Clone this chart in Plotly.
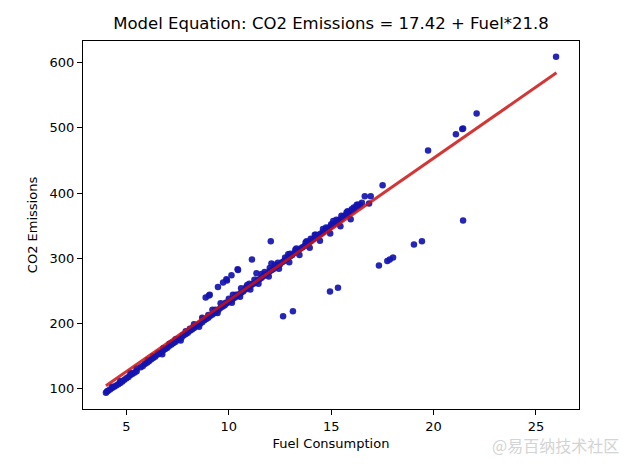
import plotly.graph_objects as go

# ---- data ----
# main band of points (fuel consumption, CO2 emissions)
band_fuel = [4.0, 4.05, 4.1, 4.2, 4.3, 4.4, 4.5, 4.6, 4.7, 4.8, 4.9, 5.0, 5.1, 5.2, 5.3, 5.4, 5.5,
             5.7, 5.8, 5.9, 6.0, 6.1, 6.2, 6.3, 6.4, 6.5, 6.6, 6.7, 6.8, 6.9, 7.0, 7.1, 7.2, 7.3,
             7.4, 7.5, 7.6, 7.7, 7.8, 7.9, 8.0, 8.1, 8.2, 8.3, 8.4, 8.5, 8.6, 8.7, 8.8, 8.9, 9.0,
             9.1, 9.2, 9.3, 9.4, 9.5, 9.6, 9.7, 9.8, 9.9, 10.0, 10.1, 10.2, 10.3, 10.4, 10.5, 10.6,
             10.7, 10.8, 10.9, 11.0, 11.1, 11.2, 11.3, 11.4, 11.5, 11.6, 11.7, 11.8, 11.9, 12.0,
             12.1, 12.2, 12.3, 12.4, 12.5, 12.6, 12.7, 12.8, 12.9, 13.0, 13.1, 13.2, 13.3, 13.4,
             13.5, 13.6, 13.7, 13.8, 13.9, 14.0, 14.1, 14.2, 14.3, 14.4, 14.5, 14.6, 14.7, 14.8,
             14.9, 15.0, 15.1, 15.2, 15.3, 15.4, 15.5, 15.6, 15.7, 15.8, 15.9, 16.0, 16.1, 16.2,
             16.3, 16.4, 16.5]
band_co2 = [94, 96, 97, 99, 101, 103, 105, 107, 109, 111, 114, 116, 118, 121, 123, 125, 127,
            133, 135, 138, 140, 142, 145, 147, 149, 152, 154, 156, 159, 161, 163, 166, 168, 170,
            172, 175, 177, 179, 182, 184, 186, 189, 191, 193, 196, 198, 200, 202, 205, 207, 209,
            212, 214, 216, 219, 221, 224, 226, 228, 231, 233, 235, 238, 240, 242, 245, 247,
            249, 252, 254, 256, 259, 261, 263, 266, 268, 270, 273, 275, 277, 280, 282, 284,
            287, 289, 291, 294, 296, 298, 301, 303, 305, 308, 310, 312, 315, 317, 319, 322,
            324, 326, 329, 331, 333, 336, 338, 340, 343, 345, 347, 350, 352, 354, 357, 359,
            361, 364, 366, 368, 371, 373, 375, 378, 380, 382, 385]

# scattered points along/around the band (band thickness)
spread_fuel = [4.3, 4.7, 5.2, 6.3, 6.8, 7.4, 7.9, 8.3, 8.7, 9.2, 9.6, 10.2, 10.6, 10.9, 11.35,
               11.6, 12.08, 12.4, 12.9, 13.3, 13.8, 14.2, 14.6, 15.1, 15.5, 15.8, 16.1, 16.3,
               16.64, 16.85, 16.93, 17.51, 5.5, 7.1, 8.1, 9.0, 10.0, 11.0, 12.0, 13.0, 14.0,
               15.0, 16.0,
               6.05, 6.55, 7.25, 7.75, 8.25, 8.75, 9.35, 9.85, 10.35, 10.85, 11.25, 11.75,
               12.25, 12.75, 13.25, 13.75, 14.25, 14.75, 15.25, 15.75, 16.25,
               10.15, 10.55, 11.05, 11.45, 11.95, 12.45, 12.95, 13.45, 13.95, 14.45, 14.95,
               15.45, 15.95, 9.45, 8.55, 7.65, 6.75]
spread_co2 = [103, 112, 124, 150, 162, 176, 188, 199, 209, 221, 231, 244, 254, 259, 277,
              276, 292, 293, 306, 315, 326, 336, 345, 357, 365, 372, 378, 382,
              395, 384, 395, 412, 131, 169, 192, 213, 238, 261, 285, 307, 330, 352, 375,
              144, 155, 171, 182, 194, 206, 221, 232, 244, 256, 267, 279,
              290, 301, 313, 324, 336, 347, 359, 370, 382,
              232, 241, 252, 261, 272, 284, 294, 305, 316, 327, 338,
              349, 360, 216, 195, 174, 153]

# diesel-like group above the band
upper_fuel = [8.87, 9.07, 9.03, 9.47, 9.72, 9.88, 9.91, 10.13, 10.43, 10.45, 11.13, 12.05]
upper_co2 = [240, 244, 243, 256, 263, 268, 266, 274, 283, 282, 298, 326]

# large-engine points on the upper part
high_fuel = [19.73, 21.09, 21.4, 21.44, 22.1, 25.98]
high_co2 = [465, 490, 498, 499, 522, 609]

# low outliers below the line
low_fuel = [12.65, 13.13, 14.94, 15.33, 17.33, 17.74, 17.86, 18.02, 19.04, 19.43, 21.44]
low_co2 = [211, 219, 249, 255, 289, 296, 298, 301, 321, 326, 358]

# model coefficients from the title
intercept = 17.42
slope = 21.8
line_fuel = [4.0, 26.0]

x_ticks = [5, 10, 15, 20, 25]
y_ticks = [100, 200, 300, 400, 500, 600]

# ---- figure ----
all_x = band_fuel + spread_fuel + upper_fuel + high_fuel + low_fuel
all_y = band_co2 + spread_co2 + upper_co2 + high_co2 + low_co2
line_co2 = [intercept + slope * v for v in line_fuel]

fig = go.Figure()
fig.add_trace(go.Scatter(
    x=all_x, y=all_y, mode="markers",
    marker=dict(color="#1414b0", size=6.5, opacity=0.92, line=dict(width=0)),
    showlegend=False, hoverinfo="skip"))
fig.add_trace(go.Scatter(
    x=line_fuel, y=line_co2, mode="lines",
    line=dict(color="rgba(205,18,18,0.85)", width=3),
    showlegend=False))

L, R, T, B = 83, 579, 41, 409  # plot area in pixels

font = "DejaVu Sans, sans-serif"
axis_common = dict(
    showline=True, linecolor="black", linewidth=1.1, mirror=True,
    ticks="outside", ticklen=5, tickwidth=1.1, tickcolor="black",
    showgrid=False, zeroline=False, automargin=False,
    tickfont=dict(family=font, size=13, color="black"),
)
fig.update_layout(
    width=632, height=464,
    margin=dict(l=L, r=632 - R, t=T, b=464 - B),
    paper_bgcolor="white", plot_bgcolor="white",
    title=dict(text="Model Equation: CO2 Emissions = 17.42 + Fuel*21.8",
               x=(L + R) / 2 / 632, xanchor="center", y=1 - 23 / 464, yanchor="middle",
               font=dict(family=font, size=16.5, color="black")),
    xaxis=dict(range=[2.88, 27.1], tickvals=x_ticks,
               title=dict(text="Fuel Consumption", font=dict(family=font, size=13, color="black"),
                          standoff=6),
               **axis_common),
    yaxis=dict(range=[69, 633], tickvals=y_ticks,
               title=dict(text="CO2 Emissions", font=dict(family=font, size=13, color="black"),
                          standoff=8),
               **axis_common),
    annotations=[dict(text="@易百纳技术社区",
                      x=(621 - L) / (R - L), y=(B - 445) / (B - T),
                      xref="paper", yref="paper", xanchor="right", yanchor="middle",
                      showarrow=False,
                      font=dict(family="Noto Sans CJK SC", size=16, color="#d4d4d4"))],
)
fig.write_html("out.html", config={"displayModeBar": False},
               post_script="document.body.style.margin='0';")
